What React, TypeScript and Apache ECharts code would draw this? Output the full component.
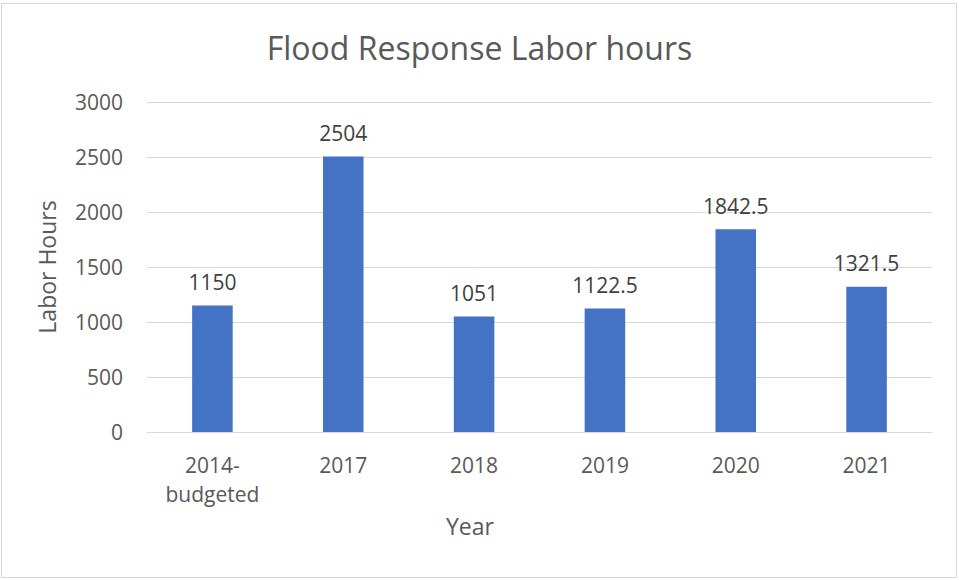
import React, { useEffect, useRef } from "react";
import * as echarts from "echarts";

const categories = ["2014-\nbudgeted", "2017", "2018", "2019", "2020", "2021"];
const laborHours = [1150, 2504, 1051, 1122.5, 1842.5, 1321.5];
const titleText = "Flood Response Labor hours";
const yAxisName = "Labor Hours";
const xAxisName = "Year";

const FONT = "'Open Sans', 'Noto Sans', sans-serif";

export default function App() {
  const ref = useRef<HTMLDivElement>(null);
  useEffect(() => {
    document.body.style.margin = "0";
    const chart = echarts.init(ref.current!, null, { renderer: "svg" });
    chart.setOption({
      animation: false,
      backgroundColor: "#ffffff",
      title: {
        text: titleText,
        left: "center",
        top: 26,
        textStyle: { fontFamily: FONT, fontSize: 32, fontWeight: "normal", color: "#595959" },
      },
      grid: { left: 147, right: 27, top: 102, bottom: 148 },
      xAxis: {
        type: "category",
        data: categories,
        axisLine: { show: true, lineStyle: { color: "#d9d9d9", width: 1 } },
        axisTick: { show: false },
        axisLabel: {
          fontFamily: FONT,
          fontSize: 21,
          color: "#595959",
          margin: 18,
          lineHeight: 29,
          interval: 0,
        },
      },
      yAxis: {
        type: "value",
        min: 0,
        max: 3000,
        interval: 500,
        name: yAxisName,
        nameLocation: "middle",
        nameGap: 89,
        nameRotate: 90,
        nameTextStyle: { fontFamily: FONT, fontSize: 23, color: "#595959" },
        axisLine: { show: false },
        axisTick: { show: false },
        axisLabel: {
          fontFamily: FONT,
          fontSize: 21,
          color: "#595959",
          margin: 24,
          formatter: (v: number) => String(v),
        },
        splitLine: { lineStyle: { color: "#d9d9d9", width: 1 } },
      },
      graphic: [
        {
          type: "text",
          left: 446,
          top: 514,
          style: { text: xAxisName, fontFamily: FONT, fontSize: 23, fill: "#595959" },
        },
      ],
      series: [
        {
          type: "bar",
          data: laborHours,
          barWidth: "31%",
          itemStyle: { color: "#4472c4" },
          label: {
            show: true,
            position: "top",
            distance: 13,
            fontFamily: FONT,
            fontSize: 21,
            color: "#404040",
          },
        },
      ],
    });
    return () => chart.dispose();
  }, []);
  return (
    <div style={{ position: "relative", width: 959, height: 580 }}>
      <div ref={ref} style={{ position: "absolute", left: 0, top: 0, width: 959, height: 580 }} />
      <div
        style={{
          position: "absolute",
          left: 1,
          top: 3,
          width: 956,
          height: 575,
          border: "1px solid #d9d9d9",
          boxSizing: "border-box",
          pointerEvents: "none",
        }}
      />
    </div>
  );
}
